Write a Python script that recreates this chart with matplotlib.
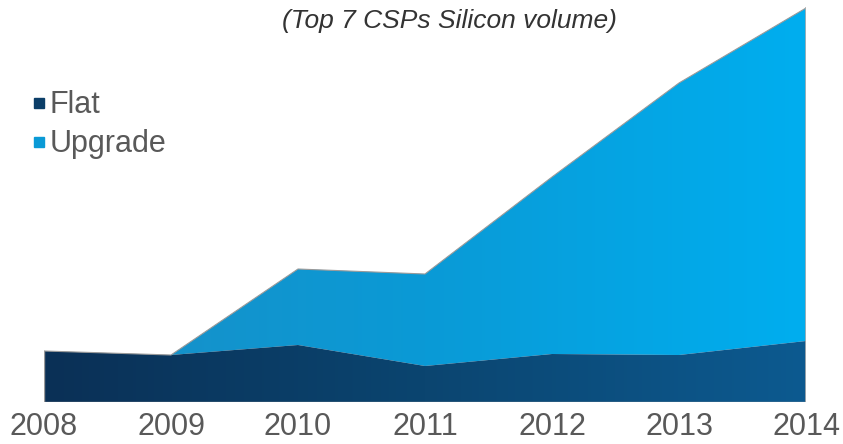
import numpy as np
import matplotlib
matplotlib.use("Agg")
import matplotlib.pyplot as plt
from matplotlib.lines import Line2D
from matplotlib.colors import LinearSegmentedColormap

plt.rcParams['font.family'] = ['Liberation Sans', 'DejaVu Sans']

years = [2008, 2009, 2010, 2011, 2012, 2013, 2014]
flat = [51, 47, 57, 36, 48, 47, 61]
upgrade = [0, 0, 76, 92, 177, 272, 333]
title = "(Top 7 CSPs Silicon volume)"
series_names = ["Flat", "Upgrade"]

W, H = 843, 444
fig = plt.figure(figsize=(W / 100, H / 100), dpi=100)
ax = fig.add_axes([44 / W, (H - 402) / H, 762 / W, 400 / H])

x = np.array(years, dtype=float)
f = np.array(flat, dtype=float)
tot = f + np.array(upgrade, dtype=float)

ax.set_xlim(years[0], years[-1])
ax.set_ylim(0, 400)

flat_cmap = LinearSegmentedColormap.from_list("flat", ["#0a3056", "#0b4570", "#0d5a90"])
up_cmap = LinearSegmentedColormap.from_list("up", ["#1a8ec5", "#0a9ad6", "#00aeef"])

def grad_fill(lower, upper, cmap):
    poly = ax.fill_between(x, lower, upper, facecolor="none", edgecolor="none")
    grad = np.linspace(0, 1, 256).reshape(1, -1)
    im = ax.imshow(grad, cmap=cmap, aspect="auto",
                   extent=[years[0], years[-1], 0, 400], origin="lower", zorder=1)
    im.set_clip_path(poly.get_paths()[0], transform=ax.transData)
    return poly

grad_fill(f, tot, up_cmap)
grad_fill(np.zeros_like(f), f, flat_cmap)

# thin grey outlines
ax.plot(x, tot, color="#9a9a9a", lw=0.8, zorder=3)
ax.plot([x[0], x[0]], [0, f[0]], color="#9a9a9a", lw=1.0, zorder=3)
ax.plot([x[-1], x[-1]], [0, tot[-1]], color="#b0b0b0", lw=1.2, zorder=3)
ax.plot([x[0], x[-1]], [0, 0], color="#9a9a9a", lw=1.0, zorder=3)

for s in ax.spines.values():
    s.set_visible(False)
ax.set_yticks([])
ax.set_xticks(years)
ax.set_xticklabels([str(y) for y in years], fontsize=22, color="#595959")
ax.tick_params(axis="x", length=0, pad=7)

fig.text(449 / W, 1 - 21 / H, title, ha="center", va="center",
         fontsize=19, style="italic", color="#333333")

handles = [
    Line2D([], [], marker="s", linestyle="none", markersize=7,
           markerfacecolor="#0b3e68", markeredgecolor="#0b3e68"),
    Line2D([], [], marker="s", linestyle="none", markersize=7,
           markerfacecolor="#0a9ad6", markeredgecolor="#0a9ad6"),
]
leg = fig.legend(handles, series_names, loc="upper left",
                 bbox_to_anchor=(16 / W, 1 - 75 / H), frameon=False,
                 fontsize=22, handlelength=0.5, handletextpad=0.1,
                 labelspacing=0.3, borderpad=0)
for t in leg.get_texts():
    t.set_color("#595959")

fig.savefig("out.png", dpi=100)
